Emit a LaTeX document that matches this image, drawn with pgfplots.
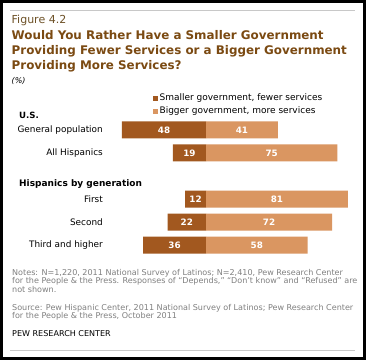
\documentclass[border=0pt]{standalone}
\usepackage{pgfplots}
\pgfplotsset{compat=1.18}
\usepackage{fontspec}
\setmainfont{DejaVu Sans}
\definecolor{darkbar}{HTML}{A2581F}
\definecolor{lightbar}{HTML}{DA9661}
\definecolor{titlebrown}{HTML}{7B4A12}
\definecolor{figgray}{HTML}{6E5228}
\definecolor{notegray}{HTML}{808080}
\definecolor{rulegray}{HTML}{C8C8C8}
\begin{document}
\begin{tikzpicture}[x=1bp,y=1bp]
\path[use as bounding box] (0,0) rectangle (368,361);
\fill[white] (0,0) rectangle (368,361);
% frame
\draw[line width=3.2bp] (1.6,2.4) rectangle (364.2,359.4);
\draw[rulegray, line width=0.8bp] (10,350.5) -- (355,350.5);
\draw[rulegray, line width=0.8bp] (10,10.5) -- (355,10.5);
% titles
\node[anchor=base west, inner sep=0, text=figgray, font=\fontsize{11bp}{12bp}\selectfont] at (11.5,338) {Figure 4.2};
\node[anchor=north west, inner sep=0, text=titlebrown, align=left,
  font=\fontsize{11.9bp}{15bp}\selectfont\bfseries] at (11.5,330.5) {Would You Rather Have a Smaller Government\\Providing Fewer Services or a Bigger Government\\Providing More Services?};
\node[anchor=base west, inner sep=0, font=\fontsize{8bp}{9bp}\selectfont\itshape] at (11.5,278) {(\%)};
\node[anchor=base west, inner sep=0, font=\fontsize{8.6bp}{9bp}\selectfont\bfseries] at (19,242.5) {U.S.};
\node[anchor=base west, inner sep=0, font=\fontsize{9bp}{9bp}\selectfont\bfseries] at (19,174.5) {Hispanics by generation};
% notes
\node[anchor=north west, inner sep=0, text=notegray, align=left,
  font=\fontsize{8.05bp}{8.6bp}\selectfont] at (12,92) {Notes: N=1,220, 2011 National Survey of Latinos; N=2,410, Pew Research Center\\for the People \& the Press. Responses of ``Depends,'' ``Don't know'' and ``Refused'' are\\not shown.};
\node[anchor=north west, inner sep=0, text=notegray, align=left,
  font=\fontsize{8.05bp}{8.6bp}\selectfont] at (12,57) {Source: Pew Hispanic Center, 2011 National Survey of Latinos; Pew Research Center\\for the People \& the Press, October 2011};
\node[anchor=north west, inner sep=0, align=left,
  font=\fontsize{8.05bp}{8.6bp}\selectfont] at (12,31) {PEW RESEARCH CENTER};
\begin{axis}[
  x=1.75bp, y=23bp, y dir=reverse,
  anchor=origin, at={(206bp,231bp)},
  xmin=-56, xmax=88, ymin=-0.7, ymax=5.6,
  axis line style={draw=none},
  major tick length=0pt,
  xtick=\empty,
  ytick={0,1,3,4,5},
  yticklabels={General population, All Hispanics, First, Second, Third and higher},
  yticklabel style={anchor=east, inner sep=0pt, xshift=-5bp, font=\fontsize{8.9bp}{9bp}\selectfont},
  clip=false,
  legend style={at={(0.177,1.152)}, anchor=north west, draw=none, fill=none,
    inner sep=0pt, row sep=0.6bp, font=\fontsize{9bp}{10bp}\selectfont,
    /tikz/every even column/.append style={column sep=0pt}},
  legend cell align=left,
]
\addplot[xbar, bar shift=0pt, bar width=17bp, fill=darkbar, draw=none,
  legend image code/.code={\fill[darkbar] (0bp,-2.4bp) rectangle (4.8bp,2.4bp);}]
  coordinates {(-48,0) (-19,1) (-12,3) (-22,4) (-36,5)};
\addlegendentry{Smaller government, fewer services}
\addplot[xbar, bar shift=0pt, bar width=17bp, fill=lightbar, draw=none,
  legend image code/.code={\fill[lightbar] (0bp,-2.4bp) rectangle (4.8bp,2.4bp);}]
  coordinates {(41,0) (75,1) (81,3) (72,4) (58,5)};
\addlegendentry{Bigger government, more services}
\addplot[draw=none, mark=none, forget plot, nodes near coords, point meta=explicit symbolic,
  every node near coord/.style={anchor=center, text=white, font=\fontsize{8.8bp}{9bp}\selectfont\bfseries}]
  table[meta=l] {
x y l
-24 0 48
20.5 0 41
-9.5 1 19
37.5 1 75
-6 3 12
40.5 3 81
-11 4 22
36 4 72
-18 5 36
29 5 58
};
\end{axis}
\end{tikzpicture}
\end{document}
